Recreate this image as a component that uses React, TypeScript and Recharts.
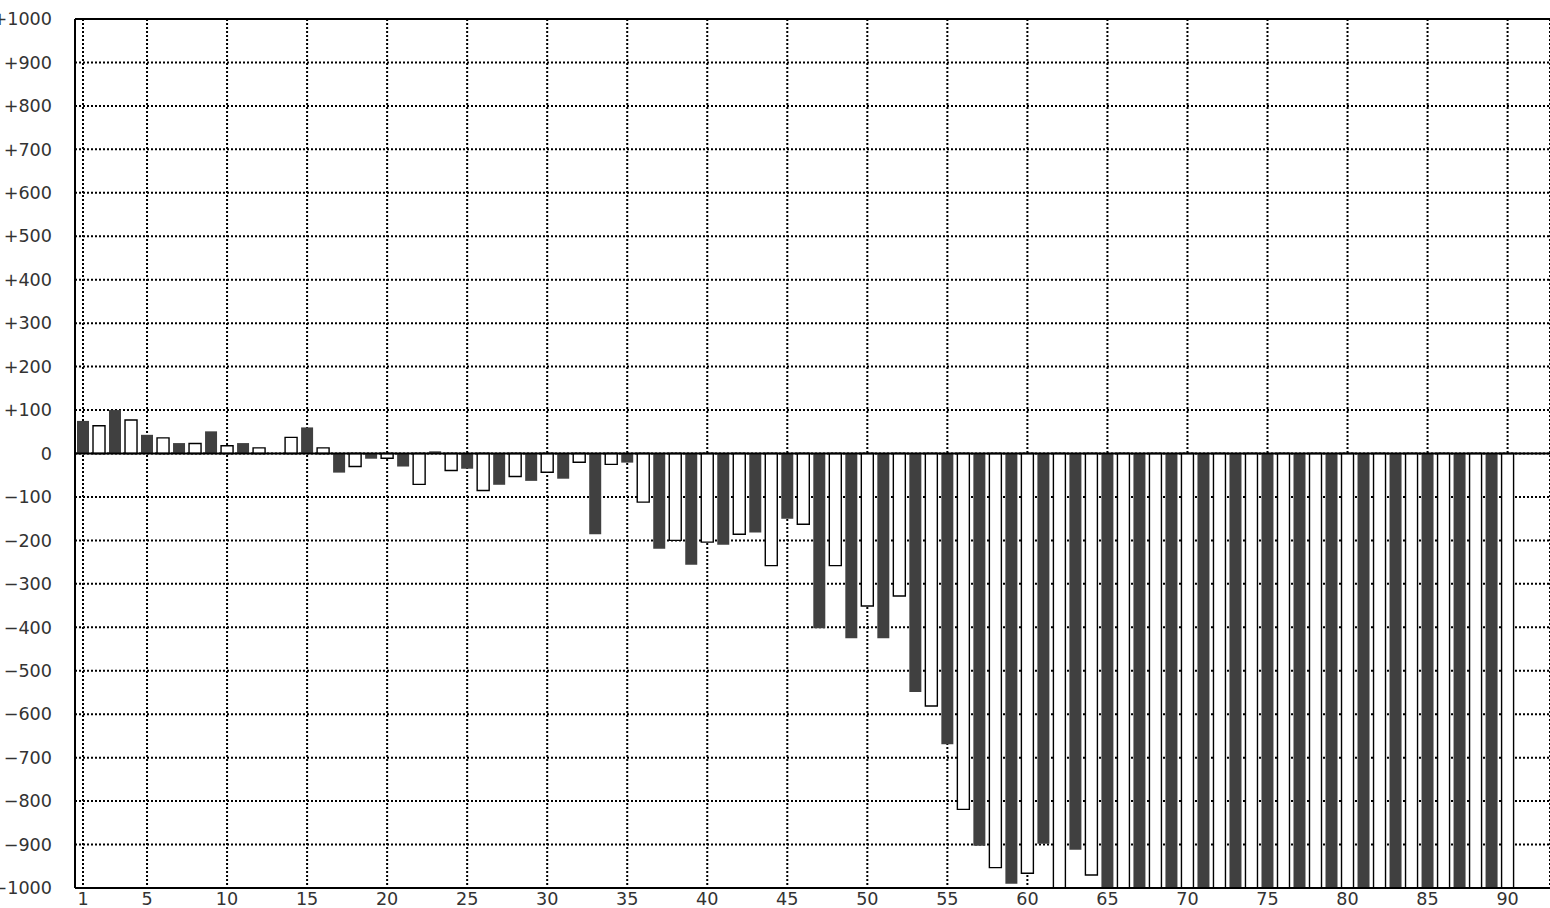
import { BarChart, Bar, Cell, XAxis, YAxis, CartesianGrid, ReferenceLine } from "recharts";

// one value per position 1..90
const positions = Array.from({ length: 90 }, (_, i) => i + 1);
const values = [
  75, 64, 100, 77, 43, 36, 24, 23, 51, 18,
  24, 13, 0, 37, 60, 13, -44, -30, -12, -11,
  -30, -71, 5, -39, -35, -85, -72, -53, -63, -43,
  -58, -20, -186, -25, -21, -112, -219, -200, -256, -204,
  -210, -186, -182, -258, -150, -163, -402, -258, -425, -351,
  -425, -328, -549, -581, -669, -819, -903, -953, -990, -966,
  -898, -1000, -912, -970, -1000, -1000, -1000, -1000, -1000, -1000,
  -1000, -1000, -1000, -1000, -1000, -1000, -1000, -1000, -1000, -1000,
  -1000, -1000, -1000, -1000, -1000, -1000, -1000, -1000, -1000, -1000,
];
const xTicks = [1, 5, 10, 15, 20, 25, 30, 35, 40, 45, 50, 55, 60, 65, 70, 75, 80, 85, 90];
const yTicks = [
  -1000, -900, -800, -700, -600, -500, -400, -300, -200, -100, 0,
  100, 200, 300, 400, 500, 600, 700, 800, 900, 1000,
];

const data = positions.map((pos, i) => ({ pos, value: values[i] }));

const formatY = (v: number) => (v > 0 ? `+${v}` : v < 0 ? `\u2212${Math.abs(v)}` : "0");

const tickStyle = { fontSize: 17.6, fill: "#333", fontFamily: "DejaVu Sans" };

export default function App() {
  return (
    <div style={{ position: "absolute", left: 0, top: 0, background: "#fff" }}>
      <BarChart
        width={1550}
        height={908}
        data={data}
        margin={{ top: 19, right: 0, bottom: 0, left: 0 }}
        barSize={12}
      >
        <CartesianGrid stroke="#000" strokeWidth={2} strokeDasharray="2 2" />
        <XAxis
          dataKey="pos"
          type="number"
          domain={[0.5, 92.65]}
          ticks={xTicks}
          height={20}
          tickLine={false}
          tickSize={0}
          tickMargin={5}
          axisLine={{ stroke: "#000", strokeWidth: 2 }}
          tick={tickStyle}
          allowDataOverflow
        />
        <YAxis
          domain={[-1000, 1000]}
          ticks={yTicks}
          width={75}
          tickLine={false}
          tickSize={0}
          tickMargin={23}
          axisLine={{ stroke: "#000", strokeWidth: 2 }}
          tick={tickStyle}
          tickFormatter={formatY}
          interval={0}
          allowDataOverflow
        />
        <ReferenceLine y={1000} stroke="#000" strokeWidth={2} />
        <Bar dataKey="value" isAnimationActive={false}>
          {data.map((d) => (
            <Cell
              key={d.pos}
              fill={d.pos % 2 === 1 ? "#404040" : "#fff"}
              stroke={d.pos % 2 === 1 ? "none" : "#000"}
              strokeWidth={1.4}
            />
          ))}
        </Bar>
        <ReferenceLine y={0} stroke="#000" strokeWidth={2} />
      </BarChart>
    </div>
  );
}
